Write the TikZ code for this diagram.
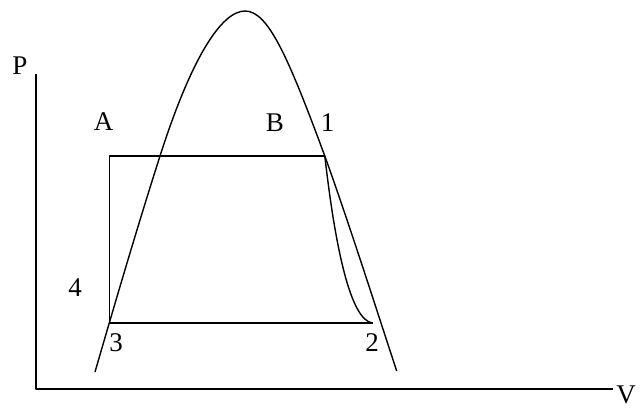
\documentclass[tikz,border=0pt]{standalone}
\usepackage{fontspec}
\setmainfont{Liberation Serif}
\begin{document}
\begin{tikzpicture}[x=1pt,y=-1pt,
  curve/.style={line width=1.4pt,line join=round},
  lbl/.style={inner sep=0pt,font=\fontsize{27}{30}\selectfont}]
\useasboundingbox (0,0) rectangle (640,408);
% axes
\coordinate (O) at (36,389);
\coordinate (Ptop) at (36,74);
\coordinate (Vend) at (613,389);
\draw[curve] (Ptop) -- (O) -- (Vend);
\node[lbl] (P) at (20,66) {P};
\node[lbl] (V) at (626,395) {V};
% key points of the dome
\coordinate (dL) at (95,372);
\coordinate (dLm) at (160,156);
\coordinate (dT) at (245,11);
\coordinate (c1) at (324.8,156);
\coordinate (dR) at (396.7,371);
% saturation dome
\draw[curve] (dL) .. controls (115.3,302) and (137.6,226) .. (dLm)
  .. controls (192,56) and (222,11) .. (dT)
  .. controls (268,11) and (287.8,56) .. (c1)
  .. controls (350,226) and (376.9,311) .. (dR);
% cycle points
\coordinate (c2) at (372.5,323);
\coordinate (c3) at (109.3,323);
\coordinate (cA) at (109.3,156);
\draw[curve] (c3) -- (cA) -- (c1);
\draw[curve] (c3) -- (c2);
\draw[curve] (c1) .. controls (335,245) and (350,320) .. (c2);
% labels
\node[lbl] (lA) at (103.5,122) {A};
\node[lbl] (lB) at (275,123) {B};
\node[lbl] (l1) at (327.5,123) {1};
\node[lbl] (l4) at (75,288) {4};
\node[lbl] (l3) at (116,343) {3};
\node[lbl] (l2) at (372,343) {2};
\end{tikzpicture}
\end{document}
